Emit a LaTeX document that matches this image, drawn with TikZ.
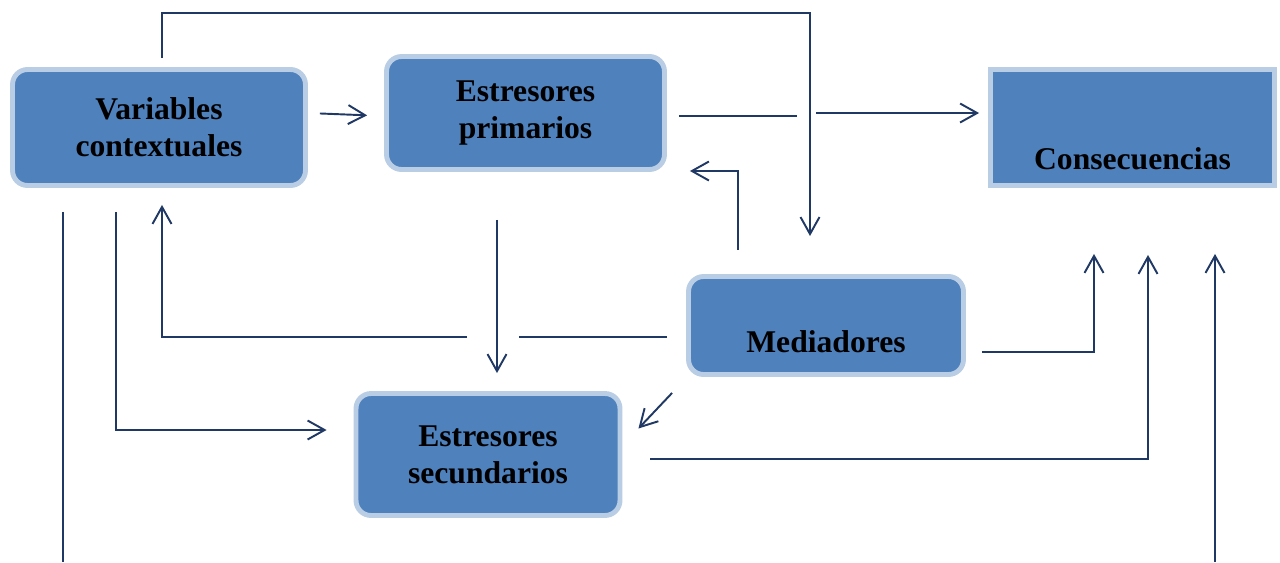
\documentclass[tikz,border=0pt]{standalone}
\usepackage{fontspec}
\setmainfont{Liberation Serif}
\usetikzlibrary{arrows.meta}
\definecolor{boxfill}{RGB}{79,129,189}
\definecolor{boxedge}{RGB}{185,205,229}
\definecolor{navy}{RGB}{31,56,100}
\begin{document}
\begin{tikzpicture}[x=0.02cm,y=-0.02cm]
            \useasboundingbox (0,0) rectangle (1280,562);
            \begin{scope}[every node/.style={draw=boxedge,line width=2.8pt,fill=boxfill,rounded corners=0.3cm,align=center,font=\bfseries\fontsize{18}{21}\selectfont}]
                \node[minimum width=5.86cm,minimum height=2.32cm] (vc) at (159,127.5) {Variables\\contextuales};
                \node[minimum width=5.56cm,minimum height=2.26cm] (ep) at (525.5,113) {Estresores\\primarios};
                \node[minimum width=5.68cm,minimum height=2.32cm,sharp corners] (cons) at (1132.5,127.5) {\raisebox{-0.83cm}[0pt][0pt]{Consecuencias}};
                \node[minimum width=5.5cm,minimum height=1.96cm] (med) at (826,325.5) {\raisebox{-0.53cm}[0pt][0pt]{Mediadores}};
                \node[minimum width=5.28cm,minimum height=2.44cm] (es) at (488,454.5) {Estresores\\secundarios};
            \end{scope}
            % free ends, bends and gaps
            \coordinate (top) at (810,236);
            \coordinate (g1) at (797,116);
            \coordinate (g2) at (816,113);
            \coordinate (m1) at (738,171);
            \coordinate (l1) at (63,562);
            \coordinate (l2) at (116,430);
            \coordinate (g3) at (519,337);
            \coordinate (g4) at (467,337);
            \coordinate (l3) at (162,337);
            \coordinate (d) at (497,300);
            \coordinate (r1) at (1094,352);
            \coordinate (r2) at (1148,459);
            \coordinate (r3) at (1215,562);
            \begin{scope}[navy,line width=1.1pt,>={Straight Barb[length=0.34cm,width=0.38cm]}]
                \draw[->] ([xshift=0.06cm,yshift=0.18cm]vc.north) -- ++(0,-45) -| (top);
                \draw[->,shorten <=0.24cm,shorten >=0.34cm] (vc.east |- ep.west) -- ([yshift=-0.06cm]ep.west);
                \draw[shorten <=0.24cm] (ep.east |- g1) -- (g1);
                \draw[->,shorten >=0.18cm] (g2) -- (g2 -| cons.west);
                \draw[->,shorten <=0.48cm,shorten >=0.46cm] (med.north -| m1) -- (m1) -- (m1 -| ep.east);
                \draw[shorten <=0.48cm] (vc.south -| l1) -- (l1);
                \draw[->,shorten <=0.48cm,shorten >=0.54cm] (vc.south -| l2) -- (l2) -- (l2 -| es.west);
                \draw[shorten <=0.38cm] (med.west |- g3) -- (g3);
                \draw[->,shorten >=0.34cm] (g4) -- (l3) -- (l3 |- vc.south);
                \draw[->,shorten <=0.96cm,shorten >=0.36cm] (ep.south -| d) -- (es.north -| d);
                \draw[->] ([shift={(-14,16)}]med.south west) -- ([shift={(16,-26)}]es.east);
                \draw[->,shorten <=0.32cm,shorten >=1.32cm] (med.east |- r1) -- (r1) -- (r1 |- cons.south);
                \draw[->,shorten <=0.56cm,shorten >=1.34cm] (es.east |- r2) -- (r2) -- (r2 |- cons.south);
                \draw[->,shorten >=1.32cm] (r3) -- (r3 |- cons.south);
            \end{scope}
        \end{tikzpicture}
\end{document}
